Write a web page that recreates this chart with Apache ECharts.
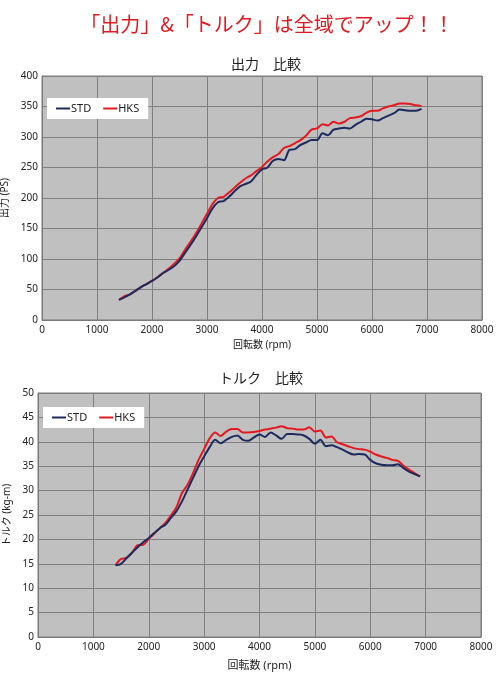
<!DOCTYPE html>
<html>
<head>
<meta charset="utf-8">
<script src="https://cdn.jsdelivr.net/npm/echarts@6/dist/echarts.min.js"></script>
<style>
html, body { margin: 0; padding: 0; background: #fff; }
#chart { width: 500px; height: 676px; }
</style>
</head>
<body>
<div id="chart"></div>
<script>
// 回転数 (rpm)
var rpm = [1400,1500,1600,1700,1800,1900,2000,2100,2200,2300,2400,2500,2600,2700,2800,2900,
	3000,3100,3200,3300,3400,3500,3600,3700,3800,3900,4000,4100,4200,4300,4400,4500,4600,4700,
	4800,4900,5000,5100,5200,5300,5400,5500,5600,5700,5800,5900,6000,6100,6200,6300,6400,6500,
	6600,6700,6800,6900];
// 出力 (PS)
var stdPower = [33,37,42,48,54,59,64,70,77,82,88,97,110,123,137,152,
	167,183,193,195,202,211,219,223,227,238,247,250,261,264,262,279,280,287,
	291,295,295,306,303,312,314,315,314,320,325,330,329,327,331,335,339,345,
	344,343,343,346];
var hksPower = [33,39,42,48,54,59,64,70,77,84,92,101,115,128,142,158,
	174,190,200,202,209,217,225,232,237,244,251,260,267,272,282,285,290,295,
	302,312,314,321,319,325,322,325,331,332,334,340,343,343,347,350,352,355,
	355,354,352,351];
// トルク (kg-m)
var stdTorque = [14.7,15.0,16.2,17.3,18.4,19.4,20.3,21.3,22.3,23.0,24.4,25.8,27.8,30.2,32.6,35.0,
	37.0,38.9,40.4,39.7,40.4,41.0,41.3,40.4,40.2,40.9,41.5,41.0,41.9,41.3,40.6,41.6,41.6,41.5,
	41.3,40.6,39.6,40.4,39.1,39.3,38.9,38.4,37.8,37.4,37.5,37.4,36.3,35.6,35.3,35.2,35.2,35.4,
	34.6,33.9,33.4,32.9];
var hksTorque = [14.7,16.0,16.2,17.3,18.8,18.9,20.1,21.2,22.3,23.4,24.9,26.6,29.5,31.2,33.6,36.3,
	38.5,40.7,41.9,41.2,42.1,42.6,42.6,41.9,41.9,42.0,42.2,42.5,42.7,42.9,43.2,42.8,42.7,42.5,
	42.5,43.0,42.1,42.3,40.9,41.1,39.9,39.5,39.1,38.7,38.5,38.4,38.0,37.4,37.0,36.7,36.3,36.1,
	35.1,34.3,33.6,32.9];

var STD_COLOR = '#1c2a5e';
var HKS_COLOR = '#e3191f';
var CJK = '"Noto Sans CJK JP", sans-serif';
var LATIN = '"Noto Sans", "Noto Sans CJK JP", sans-serif';

function pairs(ys) {
	return rpm.map(function (r, i) { return [r, ys[i]]; });
}

function plain(v) { return String(v); }

function xAxisCfg(idx, gap, size) {
	return {
		type: 'value', gridIndex: idx, min: 0, max: 8000, interval: 1000,
		name: '回転数 (rpm)', nameLocation: 'middle', nameGap: gap,
		nameTextStyle: { color: '#222', fontSize: size, fontFamily: LATIN },
		axisLine: { show: true, lineStyle: { color: '#7a7a7a' } },
		axisTick: { show: false },
		axisLabel: { color: '#222', fontSize: 10, margin: 5, fontFamily: LATIN, formatter: plain },
		splitLine: { show: true, lineStyle: { color: '#7f7f7f', width: 1 } }
	};
}

function yAxisCfg(idx, max, interval, name, gap) {
	return {
		type: 'value', gridIndex: idx, min: 0, max: max, interval: interval,
		name: name, nameLocation: 'middle', nameGap: gap, nameRotate: 90,
		nameTextStyle: { color: '#222', fontSize: 10, fontFamily: LATIN },
		axisLine: { show: true, lineStyle: { color: '#7a7a7a' } },
		axisTick: { show: false },
		axisLabel: { color: '#222', fontSize: 10, margin: 4, fontFamily: LATIN, formatter: plain },
		splitLine: { show: true, lineStyle: { color: '#7f7f7f', width: 1 } }
	};
}

function line(name, idx, ys, color) {
	return {
		name: name, type: 'line', xAxisIndex: idx, yAxisIndex: idx,
		data: pairs(ys), showSymbol: false, smooth: 0.3,
		lineStyle: { color: color, width: 2 }, itemStyle: { color: color },
		z: name == 'HKS' ? 2 : 3
	};
}

function legendCfg(left, top) {
	return {
		data: ['STD', 'HKS'],
		left: left, top: top,
		backgroundColor: '#fff',
		padding: [5, 9, 5, 9],
		itemGap: 12, itemWidth: 14, itemHeight: 2, icon: 'rect',
		textStyle: { color: '#222', fontSize: 11, fontFamily: LATIN, padding: [0, 0, 0, -4] }
	};
}

var chart = echarts.init(document.getElementById('chart'));
var option = {
	backgroundColor: '#fff',
	animation: false,
	title: [
		{ text: '「出力」&「トルク」は全域でアップ！！', left: 262, textAlign: 'center', top: 9,
			textStyle: { color: HKS_COLOR, fontSize: 20, fontWeight: 'normal', fontFamily: CJK } },
		{ text: '出力　比較', left: 261, textAlign: 'center', top: 52,
			textStyle: { color: '#222', fontSize: 14, fontWeight: 'normal', fontFamily: CJK } },
		{ text: 'トルク　比較', left: 256, textAlign: 'center', top: 366,
			textStyle: { color: '#222', fontSize: 14, fontWeight: 'normal', fontFamily: CJK } }
	],
	legend: [legendCfg(47, 98), legendCfg(43, 407)],
	grid: [
		{ left: 42, right: 18, top: 76, height: 244, show: true, outerBoundsMode: 'none',
			backgroundColor: '#c0c0c0', borderColor: '#7a7a7a' },
		{ left: 38, right: 19, top: 393, height: 244, show: true, outerBoundsMode: 'none',
			backgroundColor: '#c0c0c0', borderColor: '#7a7a7a' }
	],
	xAxis: [xAxisCfg(0, 20, 10), xAxisCfg(1, 23, 11)],
	yAxis: [yAxisCfg(0, 400, 50, '出力 (PS)', 23), yAxisCfg(1, 50, 5, 'トルク (kg-m)', 19)],
	series: [
		line('STD', 0, stdPower, STD_COLOR),
		line('HKS', 0, hksPower, HKS_COLOR),
		line('STD', 1, stdTorque, STD_COLOR),
		line('HKS', 1, hksTorque, HKS_COLOR)
	]
};
chart.setOption(option);
</script>
</body>
</html>
